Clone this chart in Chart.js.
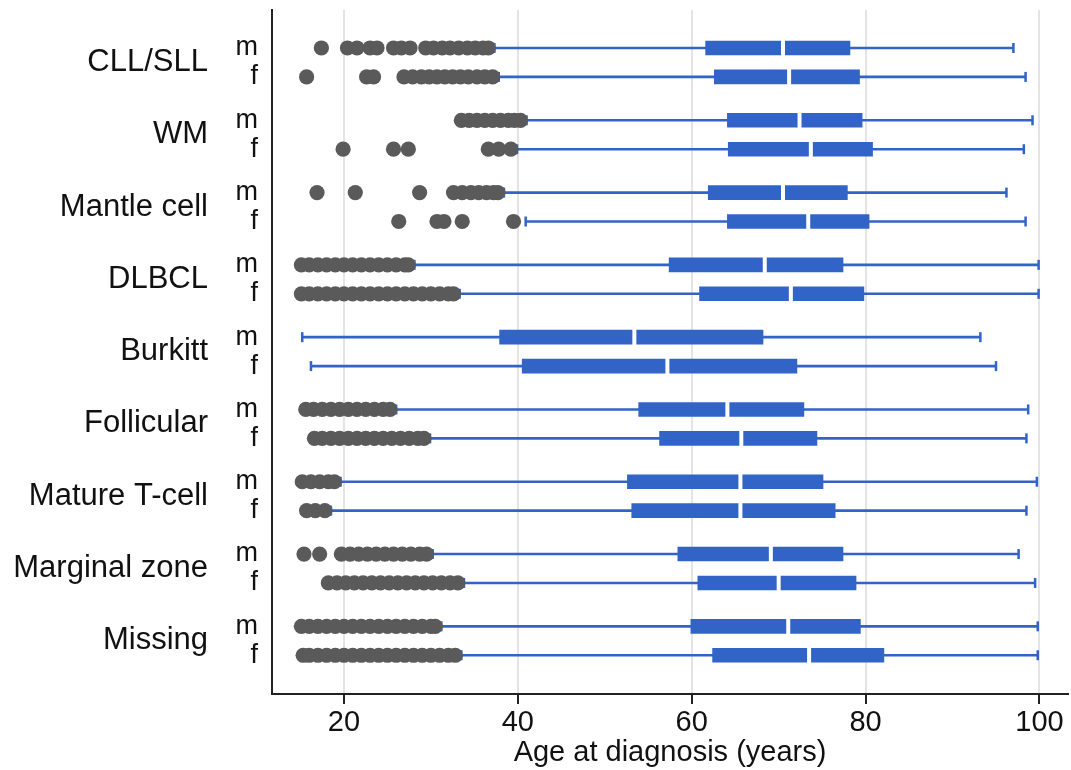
<!DOCTYPE html>
<html>
<head>
<meta charset="utf-8">
<title>Age at diagnosis by lymphoma subtype and sex</title>
<script src="https://cdn.jsdelivr.net/npm/chart.js@4.4.1/dist/chart.umd.min.js"></script>
<style>
  html, body { margin: 0; padding: 0; background: #fff; }
  #wrap { width: 1071px; height: 770px; }
</style>
</head>
<body>
<div id="wrap"><canvas id="age-box-canvas" width="1071" height="770"></canvas></div>
<script>
// subtypes, each with an m row and an f row (same order as the rows below)
const groups = ['CLL/SLL', 'WM', 'Mantle cell', 'DLBCL', 'Burkitt', 'Follicular', 'Mature T-cell', 'Marginal zone', 'Missing'];
const sexes = ['m', 'f'];

// box stats per row: CLL m, CLL f, WM m, WM f, ...
const q1 = [61.6, 62.6, 64.1, 64.2, 61.9, 64.1, 57.4, 60.9, 37.9, 40.5, 53.9, 56.3, 52.6, 53.1, 58.4, 60.7, 59.9, 62.4];
const medians = [70.5, 71.2, 72.4, 73.7, 70.5, 73.4, 68.4, 71.4, 53.4, 57.2, 64.1, 65.7, 65.6, 65.6, 69.1, 70.0, 71.1, 73.5];
const q3 = [78.2, 79.3, 79.6, 80.8, 77.9, 80.4, 77.4, 79.8, 68.2, 72.1, 72.9, 74.4, 75.1, 76.5, 77.4, 78.9, 79.4, 82.1];
const whiskerLow = [37.3, 37.8, 41.0, 39.9, 38.4, 40.9, 28.1, 33.3, 15.2, 16.2, 26.0, 29.9, 19.6, 18.5, 30.2, 33.8, 31.2, 33.5];
const whiskerHigh = [97.0, 98.4, 99.2, 98.2, 96.2, 98.4, 99.9, 99.9, 93.2, 95.0, 98.7, 98.5, 99.7, 98.5, 97.6, 99.5, 99.8, 99.8];

const outliers = [
    [17.4, 20.4, 21.5, 23.0, 23.8, 25.7, 26.6, 27.6, 29.4, 30.3, 31.3, 32.2, 33.2, 34.2, 35.1, 36.0, 36.6],
    [15.7, 22.6, 23.4, 26.9, 27.9, 28.9, 29.8, 30.7, 31.6, 32.5, 33.4, 34.3, 35.3, 36.2, 37.1],
    [33.5, 34.4, 35.3, 36.2, 37.1, 38.0, 38.9, 39.6, 40.3],
    [19.9, 25.7, 27.4, 36.6, 37.8, 39.2],
    [16.9, 21.3, 28.7, 32.6, 33.6, 34.6, 35.5, 36.4, 37.2, 37.7],
    [26.3, 30.7, 31.5, 33.6, 39.5],
    [15.1, 16, 17, 18, 19, 20, 21, 22, 23, 24, 25, 26, 27, 27.4],
    [15.1, 16, 17, 18, 19, 20, 21, 22, 23, 24, 25, 26, 27, 28, 29, 30, 31, 32, 32.6],
    [],
    [],
    [15.6, 16.5, 17.5, 18.5, 19.5, 20.5, 21.5, 22.5, 23.5, 24.5, 25.3],
    [16.6, 17.5, 18.5, 19.5, 20.5, 21.5, 22.5, 23.5, 24.5, 25.5, 26.5, 27.5, 28.5, 29.2],
    [15.2, 16.2, 17.2, 18.2, 18.9],
    [15.7, 16.7, 17.8],
    [15.4, 17.2, 19.7, 20.7, 21.7, 22.7, 23.7, 24.7, 25.7, 26.7, 27.7, 28.7, 29.5],
    [18.2, 19.2, 20.2, 21.2, 22.2, 23.2, 24.2, 25.2, 26.2, 27.2, 28.2, 29.2, 30.2, 31.2, 32.2, 33.1],
    [15.1, 16, 17, 18, 19, 20, 21, 22, 23, 24, 25, 26, 27, 28, 29, 30, 30.5],
    [15.3, 16, 17, 18, 19, 20, 21, 22, 23, 24, 25, 26, 27, 28, 29, 30, 31, 32, 32.8]
];

const xTicks = [20, 40, 60, 80, 100];

const BLUE = '#3264c8';
const DOT = '#5a5a5a';

Chart.defaults.font.family = "'Liberation Sans', Arial, sans-serif";
Chart.defaults.color = '#111';

// y position of every row: m and f one unit apart, subtypes 2.5 units apart
const rowPos = [];
const rowSex = [];
groups.forEach((g, gi) => {
    sexes.forEach((s, si) => {
        rowPos.push(gi * 2.5 + si);
        rowSex.push(s);
    });
});
const groupPos = groups.map((g, gi) => gi * 2.5 + 0.5);

const Y_MIN = -1.314;
const Y_MAX = 22.34;

const boxData = rowPos.map((y, i) => ({ x: [q1[i], q3[i]], y }));
const whiskerData = rowPos.map((y, i) => ({ x: [whiskerLow[i], whiskerHigh[i]], y }));
const medianData = rowPos.map((y, i) => ({ x: medians[i], y }));
const capData = [];
rowPos.forEach((y, i) => {
    capData.push({ x: whiskerLow[i], y });
    capData.push({ x: whiskerHigh[i], y });
});
const outlierData = [];
outliers.forEach((list, i) => {
    list.forEach(v => outlierData.push({ x: v, y: rowPos[i] }));
});

const noPad = scale => {
    scale.paddingTop = 0;
    scale.paddingBottom = 0;
    scale.paddingLeft = 0;
    scale.paddingRight = 0;
};

const canvas = document.querySelector('#age-box-canvas');

const ageChart = new Chart(canvas, {
    type: 'scatter',
    data: {
        datasets: [
            {
                label: 'median',
                data: medianData,
                pointStyle: 'line',
                pointRotation: 90,
                pointRadius: 8,
                pointBorderColor: '#ffffff',
                pointBorderWidth: 4,
                order: 0
            },
            {
                type: 'bar',
                label: 'IQR',
                indexAxis: 'y',
                data: boxData,
                backgroundColor: BLUE,
                borderWidth: 0,
                barThickness: 14,
                grouped: false,
                order: 1
            },
            {
                label: 'outliers',
                data: outlierData,
                pointRadius: 7.6,
                pointBackgroundColor: DOT,
                pointBorderWidth: 0,
                order: 2
            },
            {
                label: 'caps',
                data: capData,
                pointStyle: 'line',
                pointRotation: 90,
                pointRadius: 5,
                pointBorderColor: BLUE,
                pointBorderWidth: 2.5,
                order: 3
            },
            {
                type: 'bar',
                label: 'whiskers',
                indexAxis: 'y',
                data: whiskerData,
                backgroundColor: BLUE,
                borderWidth: 0,
                barThickness: 2,
                grouped: false,
                order: 4
            }
        ]
    },
    options: {
        responsive: false,
        animation: false,
        events: [],
        layout: { autoPadding: false, padding: { top: 10, right: 3, left: 0, bottom: 0 } },
        plugins: {
            legend: { display: false },
            tooltip: { enabled: false }
        },
        scales: {
            x: {
                type: 'linear',
                position: 'bottom',
                min: 11.72,
                max: 103.28,
                offset: false,
                afterBuildTicks: s => { s.ticks = xTicks.map(v => ({ value: v })); },
                afterFit: s => { s.height = 76; noPad(s); },
                grid: {
                    color: '#e4e4e4',
                    lineWidth: 2,
                    drawTicks: true,
                    tickLength: 10,
                    tickColor: '#222',
                    tickWidth: 2
                },
                border: { color: '#222', width: 2 },
                ticks: {
                    font: { size: 29 },
                    color: '#111',
                    padding: 2,
                    autoSkip: false,
                    maxRotation: 0
                },
                title: {
                    display: true,
                    text: 'Age at diagnosis (years)',
                    font: { size: 29 },
                    color: '#111',
                    padding: { top: 0, bottom: 0 }
                }
            },
            y: {
                type: 'linear',
                position: 'left',
                reverse: true,
                min: Y_MIN,
                max: Y_MAX,
                offset: false,
                weight: 0,
                afterBuildTicks: s => { s.ticks = rowPos.map(v => ({ value: v })); },
                afterFit: s => { s.width = 40; noPad(s); },
                grid: { display: false, drawTicks: false },
                border: { display: true, color: '#222', width: 2 },
                ticks: {
                    font: { size: 27 },
                    color: '#111',
                    padding: 14,
                    autoSkip: false,
                    callback: value => {
                        const i = rowPos.findIndex(p => Math.abs(p - value) < 1e-6);
                        return i >= 0 ? rowSex[i] : '';
                    }
                }
            },
            yGroup: {
                type: 'linear',
                position: 'left',
                reverse: true,
                min: Y_MIN,
                max: Y_MAX,
                offset: false,
                weight: 1,
                afterBuildTicks: s => { s.ticks = groupPos.map(v => ({ value: v })); },
                afterFit: s => { s.width = 232; noPad(s); },
                grid: { display: false, drawTicks: false },
                border: { display: false },
                ticks: {
                    font: { size: 31 },
                    color: '#111',
                    padding: 24,
                    autoSkip: false,
                    callback: value => {
                        const i = groupPos.findIndex(p => Math.abs(p - value) < 1e-6);
                        return i >= 0 ? groups[i] : '';
                    }
                }
            }
        }
    }
});
</script>
</body>
</html>
